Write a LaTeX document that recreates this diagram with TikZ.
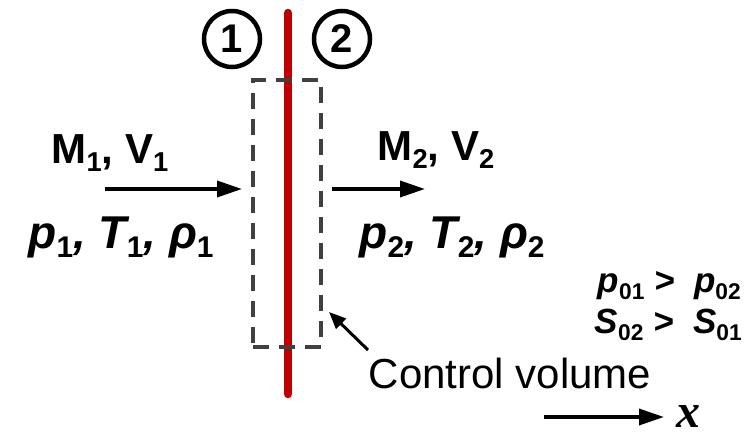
\documentclass[tikz,border=0pt]{standalone}
\usepackage{fontspec}
\setmainfont{Liberation Sans}
\newfontfamily\serifx{Liberation Serif}
\usepackage{graphicx}
\usetikzlibrary{arrows.meta}
\definecolor{wallred}{HTML}{C00000}
\definecolor{cvgray}{HTML}{404040}
\newcommand{\sbs}[1]{\raisebox{-0.2em}{\scalebox{0.65}{\upshape #1}}}

\begin{document}
\begin{tikzpicture}[x=1pt, y=-1pt,
    lbl/.style={font=\fontsize{42}{48}\selectfont\bfseries, anchor=base, inner sep=0pt},
    props/.style={font=\fontsize{46}{52}\selectfont\bfseries\itshape, anchor=base, inner sep=0pt},
    cmp/.style={font=\fontsize{35}{40}\selectfont\bfseries\itshape, anchor=base east, inner sep=0pt},
    num/.style={circle, draw, line width=4.5pt, minimum size=56pt, inner sep=0pt, font=\fontsize{40}{44}\selectfont\bfseries},
    wall/.style={draw=wallred, line width=8.5pt, line cap=round},
    cvbox/.style={draw=cvgray, line width=3.5pt, dash pattern=on 16pt off 10pt, minimum width=68pt, minimum height=267pt, inner sep=0pt},
    flow/.style={line width=3.5pt, -{Triangle[length=25pt, width=16pt]}},
    pointer/.style={line width=3pt, -{Triangle[length=17pt, width=14pt]}}
]
    \useasboundingbox (0,0) rectangle (753,439);

    % Shock wall and control volume
    \coordinate (wtop) at (288,13);
    \coordinate (wbot) at (288,394);
    \draw[wall] (wtop) -- (wbot);
    \node[cvbox] (cv) at (287,213.5) {};

    % Station numbers
    \node[num] (st1) at (232,39) {1};
    \node[num] (st2) at (342,39) {2};

    % Upstream state
    \node[lbl] (m1) at (110,163) {M\sbs{1}, V\sbs{1}};
    \coordinate (in1) at (105,189);
    \coordinate (in2) at (242,189);
    \draw[flow] (in1) -- (in2);
    \node[props] (s1) at (121,248) {p\sbs{1}, T\sbs{1}, ρ\sbs{1}};

    % Downstream state
    \node[lbl] (m2) at (436,160) {M\sbs{2}, V\sbs{2}};
    \coordinate (out1) at (332,189);
    \coordinate (out2) at (425,189);
    \draw[flow] (out1) -- (out2);
    \node[props] (s2) at (452,248) {p\sbs{2}, T\sbs{2}, ρ\sbs{2}};

    % Stagnation pressure and entropy
    \node[cmp] (pcmp) at (741,292) {p\sbs{01} >\ \ p\sbs{02}};
    \node[cmp] (scmp) at (742,333) {S\sbs{02} >\ \ S\sbs{01}};

    % Control volume label
    \node[font=\fontsize{42}{48}\selectfont, anchor=base, inner sep=0pt] (cvlbl) at (510,388) {Control volume};
    \coordinate (ptail) at (368,350);
    \coordinate (phead) at (329,312);
    \draw[pointer] (ptail) -- (phead);

    % x direction
    \node[font=\fontsize{48}{52}\selectfont\serifx\bfseries\itshape, anchor=base west, inner sep=0pt] (xl) at (676,427) {x};
    \coordinate (xa) at (544,417);
    \coordinate (xb) at (664,417);
    \draw[flow] (xa) -- (xb);
\end{tikzpicture}
\end{document}
